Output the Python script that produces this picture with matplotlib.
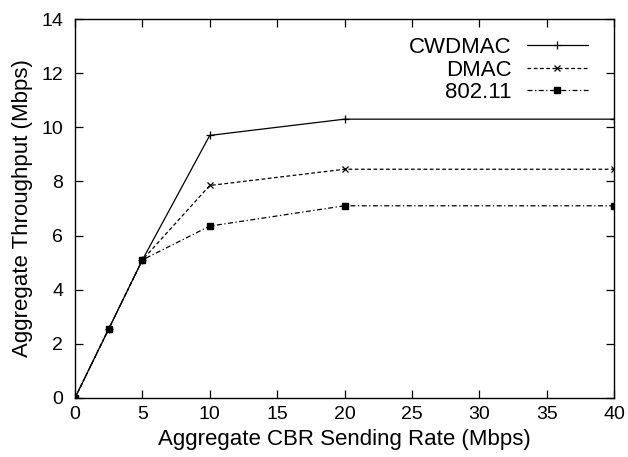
import matplotlib
matplotlib.use("Agg")
import matplotlib.pyplot as plt

plt.rcParams['font.family'] = ['Liberation Sans', 'DejaVu Sans']

rate = [0, 2.5, 5, 10, 20, 40]
cwdmac = [0, 2.55, 5.1, 9.7, 10.3, 10.3]
dmac = [0, 2.55, 5.1, 7.85, 8.45, 8.45]
ieee = [0, 2.55, 5.1, 6.35, 7.1, 7.1]
labels = ['CWDMAC', 'DMAC', '802.11']
xticks = [0, 5, 10, 15, 20, 25, 30, 35, 40]
yticks = [0, 2, 4, 6, 8, 10, 12, 14]

L, R, T, B = 75, 614, 19, 398
fig = plt.figure(figsize=(6.28, 4.57), dpi=100)
ax = fig.add_axes([L/628, 1-B/457, (R-L)/628, (B-T)/457])

ax.plot(rate, cwdmac, '-', color='black', lw=0.9, marker='+', ms=6, mew=0.9, label=labels[0])
ax.plot(rate, dmac, color='black', lw=0.9, ls=(0, (3, 2)), marker='x', ms=4.5, mew=0.9, label=labels[1])
ax.plot(rate, ieee, color='black', lw=0.9, ls=(0, (4, 2, 1, 2)), marker='s', ms=5, mfc='black', mec='black', label=labels[2])

ax.set_xlim(0, 40)
ax.set_ylim(0, 14)
ax.set_xticks(xticks)
ax.set_yticks(yticks)
ax.tick_params(direction='in', top=True, right=True, length=6, width=0.9, labelsize=14)
ax.tick_params(axis='x', pad=6)
ax.tick_params(axis='y', pad=8.5)
for s in ax.spines.values():
    s.set_linewidth(1.0)

ax.set_xlabel('Aggregate CBR Sending Rate (Mbps)', fontsize=16, labelpad=4)
ax.set_ylabel('Aggregate Throughput (Mbps)', fontsize=16, labelpad=6)

leg = ax.legend(loc='upper right', frameon=False, markerfirst=False, fontsize=16,
                handlelength=2.75, handletextpad=0.68, labelspacing=0.07,
                borderaxespad=0, borderpad=0,
                bbox_to_anchor=((588-L)/(R-L), (B-37)/(B-T)))

fig.savefig('out.png', dpi=100)
